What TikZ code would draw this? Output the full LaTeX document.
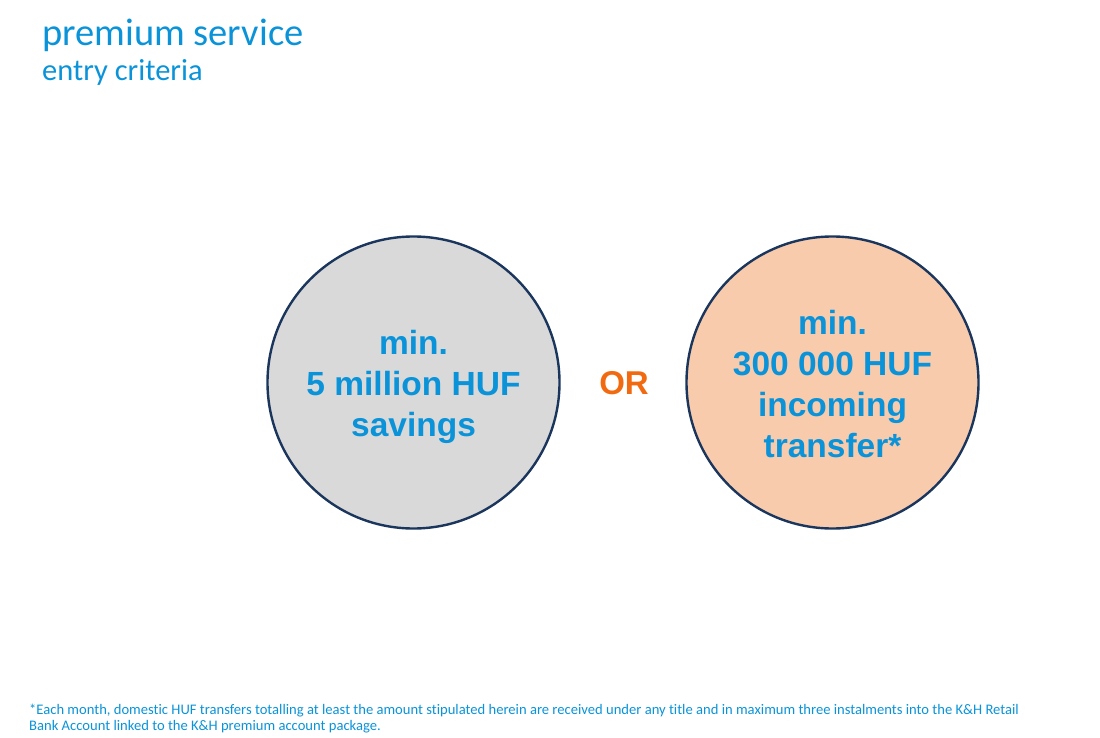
\documentclass[tikz,border=0pt]{standalone}
\usepackage{fontspec}
\setmainfont{Carlito}[Ligatures={NoCommon,NoRare,NoDiscretionary,NoContextual}]
\newfontfamily\arialfont{Liberation Sans}
\definecolor{khblue}{HTML}{0A93D8}
\definecolor{navy}{HTML}{1B365D}
\definecolor{circgray}{HTML}{D9D9D9}
\definecolor{peach}{HTML}{F8CBAD}
\definecolor{ororange}{HTML}{F26A10}
\tikzset{
  crit/.style={circle, draw=navy, line width=2.4pt, minimum size=292pt, inner sep=0pt},
  crittext/.style={align=center, inner sep=0pt, text=khblue, font=\arialfont\bfseries\fontsize{33.5}{41}\selectfont},
  lbl/.style={anchor=base west, inner sep=0pt, text=khblue}
}
\begin{document}
\begin{tikzpicture}[x=1pt,y=-1pt]
\useasboundingbox (0,0) rectangle (1100,738);
\node[lbl, font=\fontsize{38.5}{44}\selectfont] (title) at (42,46) {premium service};
\node[lbl, font=\fontsize{30.5}{34}\selectfont] (sub) at (42,81) {entry criteria};
\node[crit, fill=circgray] (c1) at (413.5,382.5) {};
\node[crit, fill=peach] (c2) at (832.5,382.5) {};
\node[crittext, yshift=-4pt] (t1) at (c1.center) {min.\\5 million HUF\\savings};
\node[crittext, yshift=-2pt] (t2) at (c2.center) {min.\\300 000 HUF\\incoming\\transfer*};
\node[text=ororange, font=\arialfont\bfseries\fontsize{33}{40}\selectfont, inner sep=0pt] (or) at (624,383) {OR};
\node[lbl, font=\fontsize{14.6}{16}\selectfont, align=left] (foot) at (29,730) {*Each month, domestic HUF transfers totalling at least the amount stipulated herein are received under any title and in maximum three instalments into the K\&H Retail\\Bank Account linked to the K\&H premium account package.};
\end{tikzpicture}
\end{document}
